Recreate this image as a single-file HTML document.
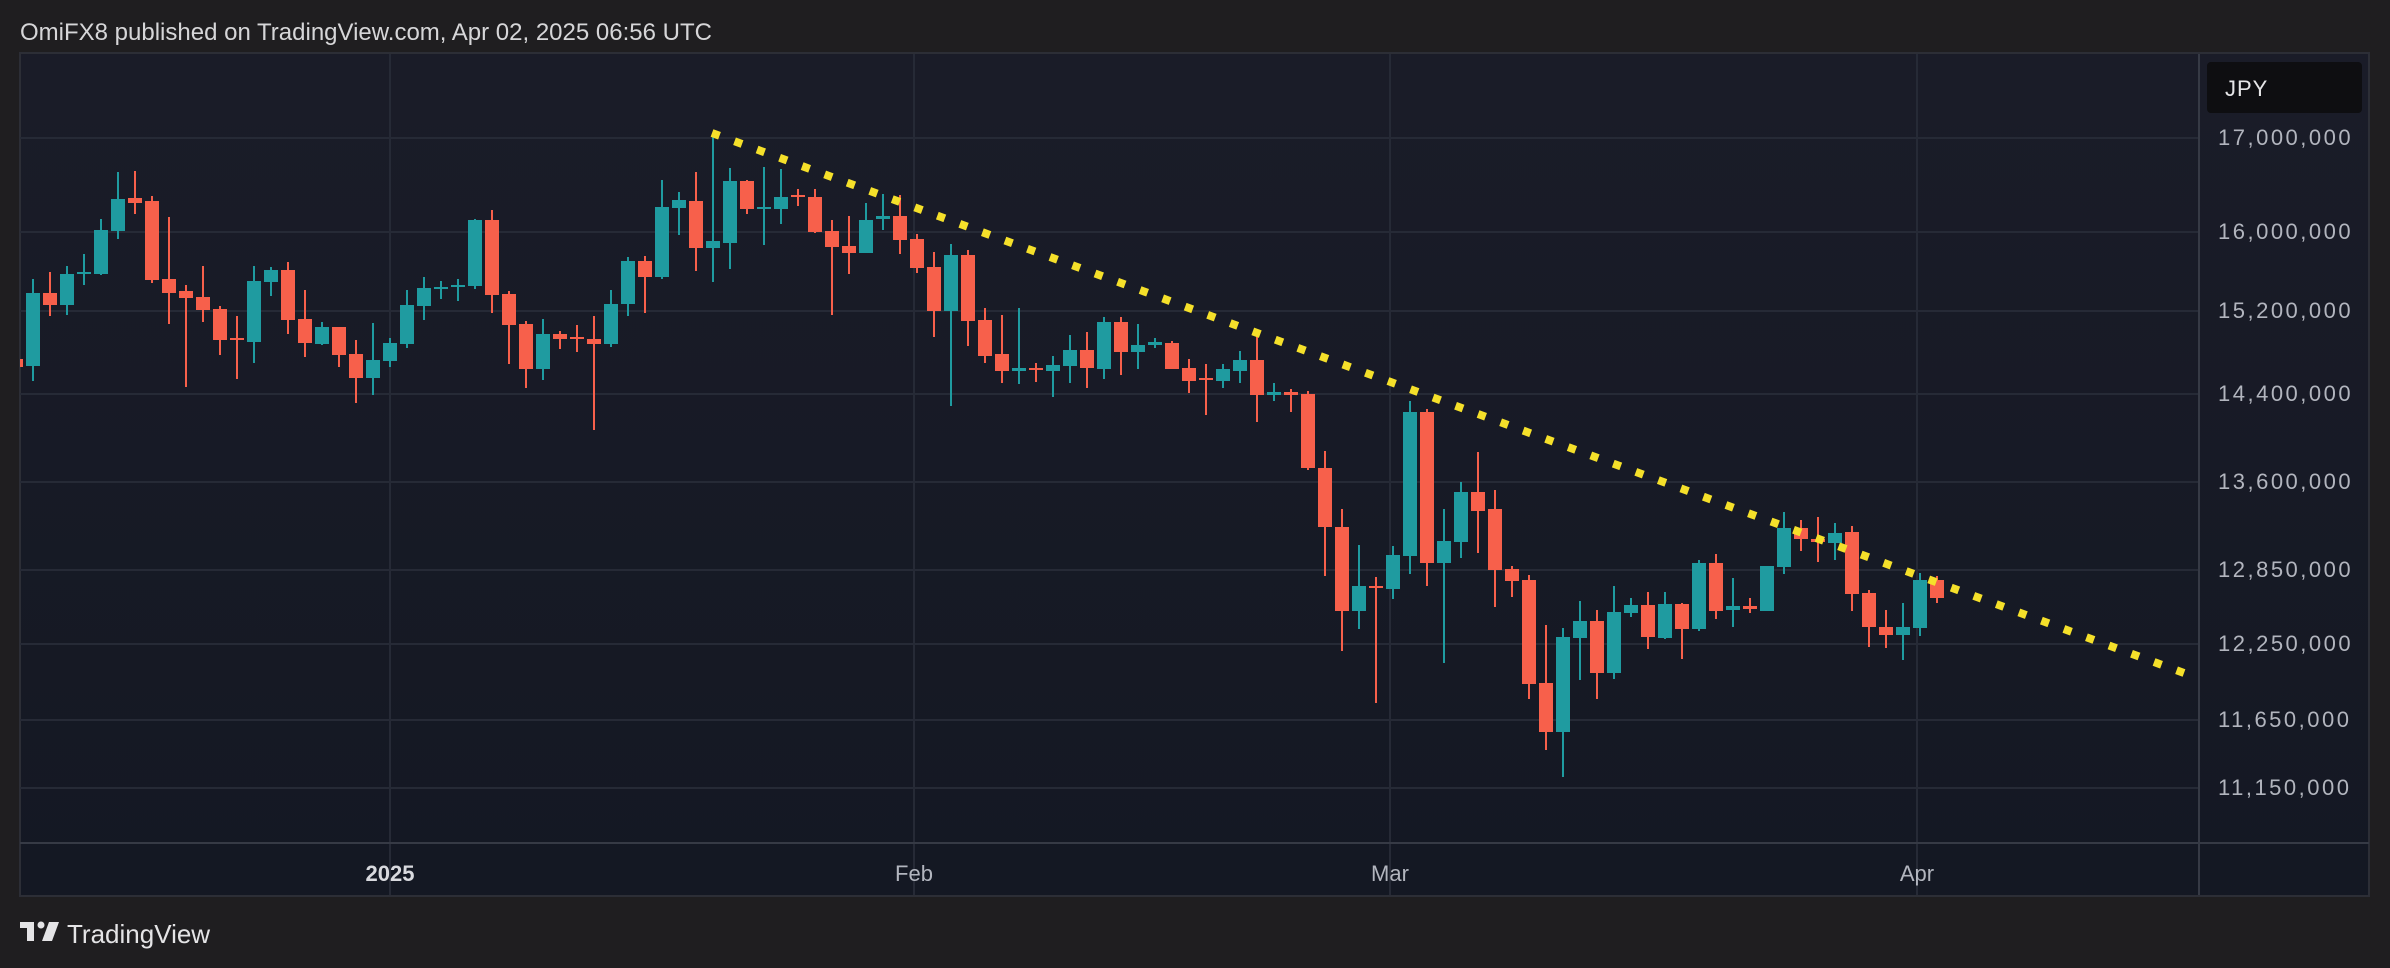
<!DOCTYPE html>
<html><head><meta charset="utf-8"><style>
html,body{margin:0;padding:0;background:#1f1e20;width:2390px;height:968px;overflow:hidden}
svg{display:block}
</style></head><body>
<svg width="2390" height="968" viewBox="0 0 2390 968" xmlns="http://www.w3.org/2000/svg">
<defs>
<linearGradient id="bg" x1="0" y1="0" x2="0" y2="1"><stop offset="0" stop-color="#1a1c28"/><stop offset="1" stop-color="#141823"/></linearGradient>
<clipPath id="cp"><rect x="20" y="54" width="2179" height="789"/></clipPath>
</defs>
<rect width="2390" height="968" fill="#1f1e20"/>
<text x="20" y="40" font-family="Liberation Sans, sans-serif" font-size="24" fill="#d6d6d8">OmiFX8 published on TradingView.com, Apr 02, 2025 06:56 UTC</text>
<rect x="20" y="53" width="2349" height="843" fill="url(#bg)" stroke="#2c2e36" stroke-width="2"/>
<g stroke="#262a36" stroke-width="2">
<line x1="20" y1="138" x2="2199" y2="138"/><line x1="20" y1="232" x2="2199" y2="232"/><line x1="20" y1="311" x2="2199" y2="311"/>
<line x1="20" y1="394" x2="2199" y2="394"/><line x1="20" y1="482" x2="2199" y2="482"/><line x1="20" y1="570" x2="2199" y2="570"/>
<line x1="20" y1="644" x2="2199" y2="644"/><line x1="20" y1="720" x2="2199" y2="720"/><line x1="20" y1="788" x2="2199" y2="788"/>
<line x1="390" y1="54" x2="390" y2="895"/><line x1="914" y1="54" x2="914" y2="895"/><line x1="1390" y1="54" x2="1390" y2="895"/><line x1="1917" y1="54" x2="1917" y2="895"/>
</g>
<line x1="2199" y1="54" x2="2199" y2="895" stroke="#363a45" stroke-width="2"/>
<line x1="20" y1="843" x2="2369" y2="843" stroke="#363a45" stroke-width="2"/>
<g clip-path="url(#cp)">
<g fill="#1f9ba0">
<rect x="32" y="279" width="2" height="102"/><rect x="26" y="293" width="14" height="73"/>
<rect x="66" y="266" width="2" height="49"/><rect x="60" y="274" width="14" height="31"/>
<rect x="83" y="254" width="2" height="31"/><rect x="77" y="272" width="14" height="2"/>
<rect x="100" y="219" width="2" height="56"/><rect x="94" y="230" width="14" height="44"/>
<rect x="117" y="172" width="2" height="67"/><rect x="111" y="199" width="14" height="32"/>
<rect x="253" y="266" width="2" height="97"/><rect x="247" y="281" width="14" height="61"/>
<rect x="270" y="267" width="2" height="29"/><rect x="264" y="270" width="14" height="12"/>
<rect x="321" y="322" width="2" height="23"/><rect x="315" y="327" width="14" height="17"/>
<rect x="372" y="323" width="2" height="72"/><rect x="366" y="360" width="14" height="18"/>
<rect x="389" y="338" width="2" height="29"/><rect x="383" y="343" width="14" height="18"/>
<rect x="406" y="290" width="2" height="58"/><rect x="400" y="305" width="14" height="39"/>
<rect x="423" y="277" width="2" height="43"/><rect x="417" y="288" width="14" height="18"/>
<rect x="440" y="281" width="2" height="18"/><rect x="434" y="287" width="14" height="2"/>
<rect x="457" y="279" width="2" height="22"/><rect x="451" y="285" width="14" height="2"/>
<rect x="474" y="219" width="2" height="70"/><rect x="468" y="220" width="14" height="66"/>
<rect x="542" y="319" width="2" height="61"/><rect x="536" y="334" width="14" height="35"/>
<rect x="610" y="290" width="2" height="57"/><rect x="604" y="304" width="14" height="40"/>
<rect x="627" y="257" width="2" height="59"/><rect x="621" y="261" width="14" height="43"/>
<rect x="661" y="180" width="2" height="99"/><rect x="655" y="207" width="14" height="70"/>
<rect x="678" y="192" width="2" height="43"/><rect x="672" y="200" width="14" height="8"/>
<rect x="712" y="133" width="2" height="149"/><rect x="706" y="241" width="14" height="7"/>
<rect x="729" y="168" width="2" height="101"/><rect x="723" y="181" width="14" height="62"/>
<rect x="763" y="167" width="2" height="78"/><rect x="757" y="207" width="14" height="2"/>
<rect x="780" y="169" width="2" height="55"/><rect x="774" y="197" width="14" height="12"/>
<rect x="865" y="203" width="2" height="50"/><rect x="859" y="220" width="14" height="33"/>
<rect x="882" y="194" width="2" height="36"/><rect x="876" y="216" width="14" height="3"/>
<rect x="950" y="244" width="2" height="162"/><rect x="944" y="255" width="14" height="56"/>
<rect x="1018" y="308" width="2" height="76"/><rect x="1012" y="368" width="14" height="3"/>
<rect x="1052" y="356" width="2" height="41"/><rect x="1046" y="365" width="14" height="6"/>
<rect x="1069" y="335" width="2" height="48"/><rect x="1063" y="350" width="14" height="16"/>
<rect x="1103" y="317" width="2" height="62"/><rect x="1097" y="322" width="14" height="47"/>
<rect x="1137" y="324" width="2" height="45"/><rect x="1131" y="345" width="14" height="7"/>
<rect x="1154" y="338" width="2" height="10"/><rect x="1148" y="342" width="14" height="3"/>
<rect x="1222" y="364" width="2" height="24"/><rect x="1216" y="369" width="14" height="12"/>
<rect x="1239" y="351" width="2" height="32"/><rect x="1233" y="360" width="14" height="11"/>
<rect x="1273" y="383" width="2" height="18"/><rect x="1267" y="392" width="14" height="3"/>
<rect x="1358" y="545" width="2" height="84"/><rect x="1352" y="586" width="14" height="25"/>
<rect x="1392" y="546" width="2" height="53"/><rect x="1386" y="555" width="14" height="34"/>
<rect x="1409" y="401" width="2" height="173"/><rect x="1403" y="412" width="14" height="144"/>
<rect x="1443" y="509" width="2" height="154"/><rect x="1437" y="541" width="14" height="22"/>
<rect x="1460" y="482" width="2" height="76"/><rect x="1454" y="492" width="14" height="50"/>
<rect x="1562" y="628" width="2" height="149"/><rect x="1556" y="637" width="14" height="95"/>
<rect x="1579" y="601" width="2" height="79"/><rect x="1573" y="621" width="14" height="17"/>
<rect x="1613" y="586" width="2" height="93"/><rect x="1607" y="612" width="14" height="61"/>
<rect x="1630" y="598" width="2" height="19"/><rect x="1624" y="605" width="14" height="8"/>
<rect x="1664" y="592" width="2" height="47"/><rect x="1658" y="604" width="14" height="34"/>
<rect x="1698" y="560" width="2" height="71"/><rect x="1692" y="563" width="14" height="66"/>
<rect x="1732" y="578" width="2" height="49"/><rect x="1726" y="606" width="14" height="4"/>
<rect x="1766" y="566" width="2" height="45"/><rect x="1760" y="566" width="14" height="45"/>
<rect x="1783" y="512" width="2" height="62"/><rect x="1777" y="528" width="14" height="39"/>
<rect x="1834" y="523" width="2" height="37"/><rect x="1828" y="533" width="14" height="10"/>
<rect x="1902" y="603" width="2" height="57"/><rect x="1896" y="627" width="14" height="8"/>
<rect x="1919" y="573" width="2" height="63"/><rect x="1913" y="580" width="14" height="48"/>
</g>
<g fill="#f7604b">
<rect x="15" y="355" width="2" height="15"/><rect x="9" y="359" width="14" height="8"/>
<rect x="49" y="272" width="2" height="44"/><rect x="43" y="293" width="14" height="12"/>
<rect x="134" y="171" width="2" height="43"/><rect x="128" y="198" width="14" height="5"/>
<rect x="151" y="196" width="2" height="87"/><rect x="145" y="201" width="14" height="79"/>
<rect x="168" y="217" width="2" height="107"/><rect x="162" y="279" width="14" height="14"/>
<rect x="185" y="285" width="2" height="102"/><rect x="179" y="291" width="14" height="7"/>
<rect x="202" y="266" width="2" height="56"/><rect x="196" y="297" width="14" height="13"/>
<rect x="219" y="306" width="2" height="49"/><rect x="213" y="309" width="14" height="31"/>
<rect x="236" y="316" width="2" height="63"/><rect x="230" y="338" width="14" height="2"/>
<rect x="287" y="262" width="2" height="72"/><rect x="281" y="270" width="14" height="50"/>
<rect x="304" y="290" width="2" height="67"/><rect x="298" y="319" width="14" height="24"/>
<rect x="338" y="327" width="2" height="40"/><rect x="332" y="327" width="14" height="28"/>
<rect x="355" y="340" width="2" height="63"/><rect x="349" y="354" width="14" height="24"/>
<rect x="491" y="210" width="2" height="103"/><rect x="485" y="220" width="14" height="75"/>
<rect x="508" y="291" width="2" height="73"/><rect x="502" y="294" width="14" height="31"/>
<rect x="525" y="321" width="2" height="67"/><rect x="519" y="324" width="14" height="45"/>
<rect x="559" y="331" width="2" height="18"/><rect x="553" y="334" width="14" height="5"/>
<rect x="576" y="325" width="2" height="27"/><rect x="570" y="337" width="14" height="2"/>
<rect x="593" y="316" width="2" height="114"/><rect x="587" y="339" width="14" height="5"/>
<rect x="644" y="256" width="2" height="57"/><rect x="638" y="261" width="14" height="16"/>
<rect x="695" y="172" width="2" height="99"/><rect x="689" y="201" width="14" height="47"/>
<rect x="746" y="180" width="2" height="34"/><rect x="740" y="181" width="14" height="28"/>
<rect x="797" y="189" width="2" height="17"/><rect x="791" y="195" width="14" height="2"/>
<rect x="814" y="189" width="2" height="44"/><rect x="808" y="197" width="14" height="35"/>
<rect x="831" y="220" width="2" height="95"/><rect x="825" y="231" width="14" height="16"/>
<rect x="848" y="216" width="2" height="58"/><rect x="842" y="246" width="14" height="7"/>
<rect x="899" y="195" width="2" height="59"/><rect x="893" y="216" width="14" height="24"/>
<rect x="916" y="234" width="2" height="39"/><rect x="910" y="239" width="14" height="29"/>
<rect x="933" y="252" width="2" height="85"/><rect x="927" y="267" width="14" height="44"/>
<rect x="967" y="250" width="2" height="96"/><rect x="961" y="255" width="14" height="66"/>
<rect x="984" y="308" width="2" height="55"/><rect x="978" y="320" width="14" height="36"/>
<rect x="1001" y="315" width="2" height="68"/><rect x="995" y="354" width="14" height="17"/>
<rect x="1035" y="363" width="2" height="19"/><rect x="1029" y="368" width="14" height="2"/>
<rect x="1086" y="332" width="2" height="56"/><rect x="1080" y="350" width="14" height="18"/>
<rect x="1120" y="317" width="2" height="58"/><rect x="1114" y="322" width="14" height="30"/>
<rect x="1171" y="341" width="2" height="28"/><rect x="1165" y="343" width="14" height="26"/>
<rect x="1188" y="359" width="2" height="34"/><rect x="1182" y="368" width="14" height="13"/>
<rect x="1205" y="364" width="2" height="51"/><rect x="1199" y="378" width="14" height="2"/>
<rect x="1256" y="332" width="2" height="90"/><rect x="1250" y="360" width="14" height="35"/>
<rect x="1290" y="389" width="2" height="23"/><rect x="1284" y="392" width="14" height="3"/>
<rect x="1307" y="391" width="2" height="79"/><rect x="1301" y="394" width="14" height="74"/>
<rect x="1324" y="451" width="2" height="125"/><rect x="1318" y="468" width="14" height="59"/>
<rect x="1341" y="509" width="2" height="142"/><rect x="1335" y="527" width="14" height="84"/>
<rect x="1375" y="577" width="2" height="126"/><rect x="1369" y="586" width="14" height="2"/>
<rect x="1426" y="409" width="2" height="177"/><rect x="1420" y="412" width="14" height="151"/>
<rect x="1477" y="452" width="2" height="101"/><rect x="1471" y="492" width="14" height="19"/>
<rect x="1494" y="490" width="2" height="117"/><rect x="1488" y="509" width="14" height="61"/>
<rect x="1511" y="566" width="2" height="31"/><rect x="1505" y="569" width="14" height="12"/>
<rect x="1528" y="575" width="2" height="124"/><rect x="1522" y="580" width="14" height="104"/>
<rect x="1545" y="625" width="2" height="125"/><rect x="1539" y="683" width="14" height="49"/>
<rect x="1596" y="610" width="2" height="89"/><rect x="1590" y="621" width="14" height="52"/>
<rect x="1647" y="592" width="2" height="57"/><rect x="1641" y="605" width="14" height="32"/>
<rect x="1681" y="603" width="2" height="56"/><rect x="1675" y="604" width="14" height="25"/>
<rect x="1715" y="554" width="2" height="65"/><rect x="1709" y="563" width="14" height="48"/>
<rect x="1749" y="598" width="2" height="15"/><rect x="1743" y="606" width="14" height="3"/>
<rect x="1800" y="520" width="2" height="31"/><rect x="1794" y="528" width="14" height="11"/>
<rect x="1817" y="517" width="2" height="45"/><rect x="1811" y="539" width="14" height="3"/>
<rect x="1851" y="526" width="2" height="85"/><rect x="1845" y="532" width="14" height="62"/>
<rect x="1868" y="590" width="2" height="57"/><rect x="1862" y="593" width="14" height="34"/>
<rect x="1885" y="610" width="2" height="38"/><rect x="1879" y="627" width="14" height="8"/>
<rect x="1936" y="576" width="2" height="27"/><rect x="1930" y="580" width="14" height="18"/>
</g>
<line x1="712" y1="133" x2="2184" y2="673" stroke="#f5e02a" stroke-width="8" stroke-dasharray="8 16"/>
</g>
<rect x="2207" y="62" width="155" height="51" rx="4" fill="#0e0e11"/>
<text x="2225" y="96" font-family="Liberation Sans, sans-serif" font-size="22" fill="#e6e6e8" letter-spacing="1">JPY</text>
<g font-family="Liberation Sans, sans-serif" font-size="22" fill="#b2b5be" letter-spacing="2.5">
<text x="2218" y="145">17,000,000</text>
<text x="2218" y="239">16,000,000</text>
<text x="2218" y="318">15,200,000</text>
<text x="2218" y="401">14,400,000</text>
<text x="2218" y="489">13,600,000</text>
<text x="2218" y="577">12,850,000</text>
<text x="2218" y="651">12,250,000</text>
<text x="2218" y="727">11,650,000</text>
<text x="2218" y="795">11,150,000</text>
</g>
<g font-family="Liberation Sans, sans-serif" font-size="22" fill="#b2b5be" text-anchor="middle">
<text x="390" y="881" font-weight="bold" fill="#d8d9de">2025</text>
<text x="914" y="881">Feb</text>
<text x="1390" y="881">Mar</text>
<text x="1917" y="881">Apr</text>
</g>
<g fill="#e4e4e6">
<rect x="20" y="922" width="14" height="6"/><rect x="27" y="922" width="7" height="19"/>
<circle cx="41" cy="925" r="3.5"/>
<polygon points="49,922 59,922 52,941 42,941"/>
</g>
<text x="67" y="943" font-family="Liberation Sans, sans-serif" font-size="26" fill="#e4e4e6">TradingView</text>
</svg>
</body></html>
